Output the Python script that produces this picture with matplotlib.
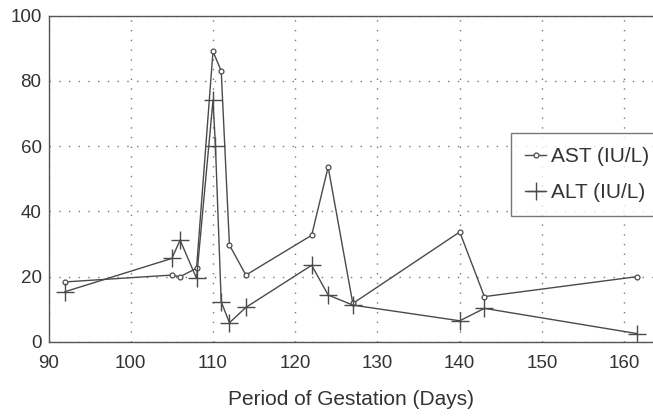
import matplotlib
matplotlib.use("Agg")
import matplotlib.pyplot as plt

plt.rcParams['font.family'] = ['Liberation Sans', 'DejaVu Sans']

ast_days = [92, 105, 106, 108, 110, 111, 112, 114, 122, 124, 127, 140, 143, 161.5]
ast_vals = [18.4, 20.5, 20, 22.6, 89, 83, 29.7, 20.5, 32.7, 53.6, 11.8, 33.7, 13.9, 20]

alt_days = [92, 105, 106, 108, 110, 110.3, 111, 112, 114, 122, 124, 127, 140, 143, 161.5]
alt_vals = [15.4, 25.6, 31.2, 19.5, 74, 60, 12.3, 5.9, 10.6, 23.5, 14.4, 11.3, 6.5, 10.3, 2.6]

xticks = [90, 100, 110, 120, 130, 140, 150, 160]
yticks = [0, 20, 40, 60, 80, 100]

W, H = 653, 417
L, T, B = 48.5, 15.5, 342
fig = plt.figure(figsize=(W / 100, H / 100), dpi=100)
ax = fig.add_axes([L / W, 1 - B / H, 1 - L / W, (B - T) / H])

col = '#4a4a4a'
ax.plot(ast_days, ast_vals, color=col, lw=1.0, marker='o', ms=3.5,
        mfc='white', mec=col, mew=0.9, label='AST (IU/L)')
ax.plot(alt_days, alt_vals, color=col, lw=1.0, marker='+', ms=13,
        mec=col, mew=1.0, label='ALT (IU/L)')

ax.set_xlim(90, 163.5)
ax.set_ylim(0, 100)
ax.set_xticks(xticks)
ax.set_yticks(yticks)
ax.tick_params(axis='both', length=0, labelsize=13.5, colors='#333333')
ax.tick_params(axis='x', pad=9)
ax.tick_params(axis='y', pad=5)
ax.grid(True, linestyle=(0, (1, 6)), color='#777777', lw=1.0)
for s in ['left', 'bottom', 'top']:
    ax.spines[s].set_color('#555555')
    ax.spines[s].set_linewidth(1.0)
ax.spines['right'].set_visible(False)

ax.set_xlabel('Period of Gestation (Days)', fontsize=15, color='#333333', labelpad=13.5)

pw = W - L
ph = B - T
x0 = (511 - L) / pw
y1 = (B - 133) / ph
y0 = (B - 217) / ph
leg = ax.legend(loc='upper left', bbox_to_anchor=(x0, y0, 1.03 - x0, y1 - y0),
                mode='expand', fontsize=15, frameon=True, fancybox=False,
                handlelength=1.0, handletextpad=0.25, borderpad=0.68,
                labelspacing=0.82, borderaxespad=0)
leg.get_frame().set_edgecolor('#555555')
leg.get_frame().set_linewidth(1.0)
for t in leg.get_texts():
    t.set_color('#333333')

fig.savefig('out.png', dpi=100)
